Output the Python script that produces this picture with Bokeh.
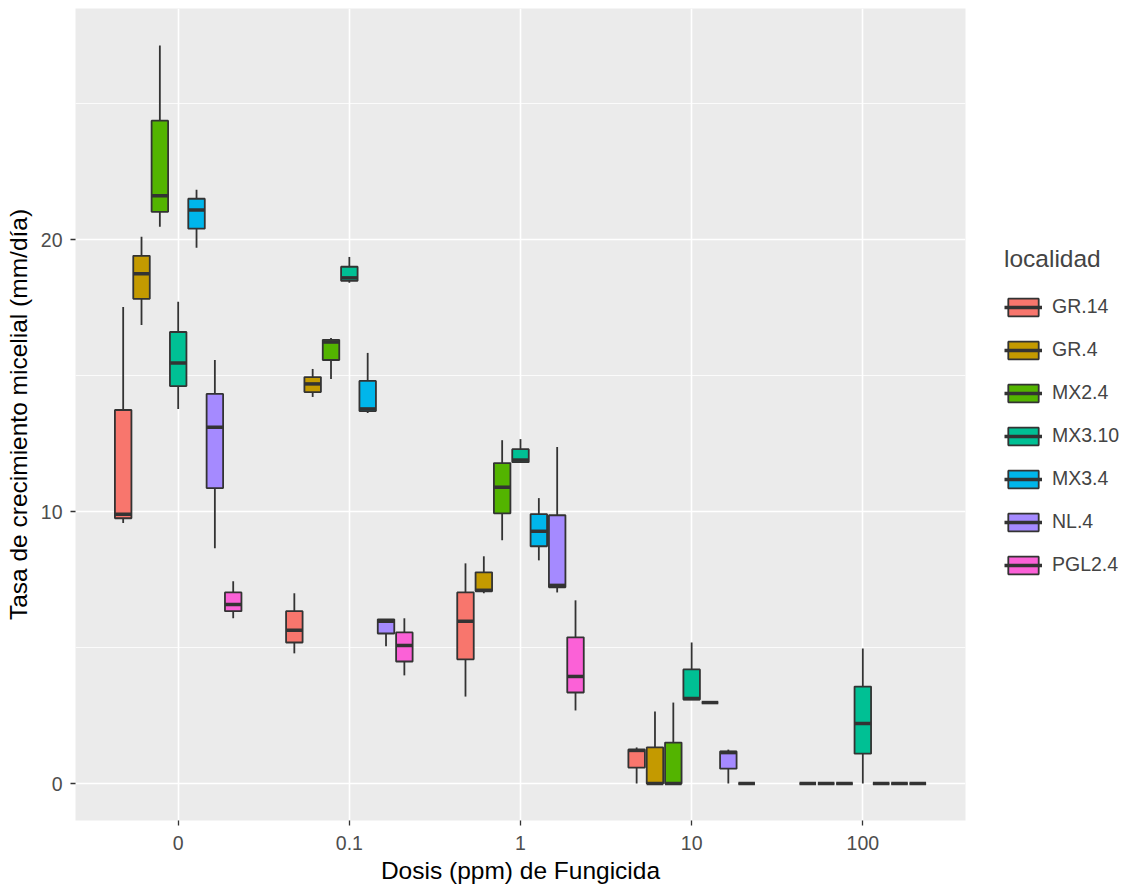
from bokeh.plotting import figure
from bokeh.models import ColumnDataSource, FactorRange, Range1d, FixedTicker, Legend, LegendItem
from bokeh.transform import dodge
from bokeh.embed import file_html
from bokeh.resources import INLINE

doses = ["0", "0.1", "1", "10", "100"]
localidades = ["GR.14", "GR.4", "MX2.4", "MX3.10", "MX3.4", "NL.4", "PGL2.4"]
colores = ["#F8766D", "#C49A00", "#53B400", "#00C094", "#00B6EB", "#A58AFF", "#FB61D7"]

whisker_low = {
    "GR.14": [9.58, 4.79, 3.20, 0.0, 0.0],
    "GR.4": [16.87, 14.22, 7.00, 0.0, 0.0],
    "MX2.4": [20.48, 14.88, 8.95, 0.0, 0.0],
    "MX3.10": [13.78, 18.42, 11.82, 3.09, 0.0],
    "MX3.4": [19.71, 13.63, 8.21, 2.98, 0.0],
    "NL.4": [8.66, 5.05, 7.03, 0.0, 0.0],
    "PGL2.4": [6.08, 3.98, 2.69, 0.0, 0.0],
}
q1 = {
    "GR.14": [9.76, 5.19, 4.57, 0.59, 0.0],
    "GR.4": [17.83, 14.40, 7.07, 0.0, 0.0],
    "MX2.4": [21.03, 15.58, 9.94, 0.0, 0.0],
    "MX3.10": [14.62, 18.49, 11.82, 3.09, 1.10],
    "MX3.4": [20.41, 13.70, 8.73, 2.98, 0.0],
    "NL.4": [10.87, 5.52, 7.22, 0.55, 0.0],
    "PGL2.4": [6.34, 4.49, 3.35, 0.0, 0.0],
}
median = {
    "GR.14": [9.91, 5.64, 5.97, 1.22, 0.0],
    "GR.4": [18.75, 14.70, 7.11, 0.0, 0.0],
    "MX2.4": [21.62, 16.24, 10.90, 0.0, 0.0],
    "MX3.10": [15.47, 18.60, 11.90, 3.13, 2.21],
    "MX3.4": [21.10, 13.78, 9.28, 2.98, 0.0],
    "NL.4": [13.11, 5.97, 7.29, 1.14, 0.0],
    "PGL2.4": [6.59, 5.08, 3.94, 0.0, 0.0],
}
q3 = {
    "GR.14": [13.74, 6.34, 7.03, 1.25, 0.0],
    "GR.4": [19.41, 14.95, 7.77, 1.33, 0.0],
    "MX2.4": [24.38, 16.32, 11.79, 1.51, 0.0],
    "MX3.10": [16.61, 19.01, 12.30, 4.20, 3.57],
    "MX3.4": [21.51, 14.81, 9.91, 2.98, 0.0],
    "NL.4": [14.33, 6.04, 9.87, 1.18, 0.0],
    "PGL2.4": [7.03, 5.56, 5.38, 0.0, 0.0],
}
whisker_high = {
    "GR.14": [17.53, 7.00, 8.10, 1.33, 0.0],
    "GR.4": [20.11, 15.25, 8.36, 2.65, 0.0],
    "MX2.4": [27.15, 16.39, 12.63, 2.98, 0.0],
    "MX3.10": [17.72, 19.37, 12.67, 5.19, 4.97],
    "MX3.4": [21.84, 15.84, 10.50, 2.98, 0.0],
    "NL.4": [15.58, 6.04, 12.38, 1.25, 0.0],
    "PGL2.4": [7.44, 6.08, 6.74, 0.0, 0.0],
}

FONT = "Liberation Sans"
ymax = max(max(v) for v in whisker_high.values())
ymin = 0.0
pad = 0.05 * (ymax - ymin)

p = figure(
    x_range=FactorRange(factors=doses, range_padding=0.1, range_padding_units="absolute"),
    y_range=Range1d(ymin - pad, ymax + pad),
    frame_width=890, frame_height=812,
    output_backend="svg", toolbar_location=None,
    min_border_left=75, min_border_right=164, min_border_top=8, min_border_bottom=70,
)
p.background_fill_color = "#EBEBEB"
p.border_fill_color = "white"
p.outline_line_color = None

p.xgrid.grid_line_color = "white"
p.xgrid.grid_line_width = 1.6
p.ygrid.grid_line_color = "white"
p.ygrid.grid_line_width = 1.6
p.ygrid.minor_grid_line_color = "white"
p.ygrid.minor_grid_line_width = 0.8
p.yaxis.ticker = FixedTicker(ticks=[0, 10, 20], minor_ticks=[5, 15, 25])

for ax in (p.xaxis, p.yaxis):
    ax.axis_line_color = None
    ax.major_tick_line_color = "#333333"
    ax.major_tick_line_width = 1.3
    ax.major_tick_out = 5
    ax.major_tick_in = 0
    ax.minor_tick_line_color = None
    ax.major_label_text_font = FONT
    ax.major_label_text_font_size = "19.5px"
    ax.major_label_text_color = "#4D4D4D"
    ax.axis_label_text_font = FONT
    ax.axis_label_text_font_size = "24.5px"
    ax.axis_label_text_font_style = "normal"
    ax.axis_label_text_color = "black"
p.xaxis.axis_label = "Dosis (ppm) de Fungicida"
p.yaxis.axis_label = "Tasa de crecimiento micelial (mm/día)"
p.xaxis.major_label_standoff = 10
p.xaxis.axis_label_standoff = 4
p.yaxis.major_label_standoff = 8
p.yaxis.axis_label_standoff = 6

n = len(localidades)
slot = 0.75 / n
bw = slot * 0.9
items = []
for i, (loc, col) in enumerate(zip(localidades, colores)):
    off = (i - (n - 1) / 2) * slot
    src = ColumnDataSource(dict(
        dose=doses, lo=whisker_low[loc], q1=q1[loc], med=median[loc], q3=q3[loc], hi=whisker_high[loc],
    ))
    p.segment(x0=dodge("dose", off, range=p.x_range), x1=dodge("dose", off, range=p.x_range),
              y0="lo", y1="hi", source=src, line_color="#333333", line_width=1.8)
    box = p.vbar(x=dodge("dose", off, range=p.x_range), width=bw, bottom="q1", top="q3", source=src,
                 fill_color=col, line_color="#333333", line_width=1.8)
    med = p.segment(x0=dodge("dose", off - bw / 2, range=p.x_range), x1=dodge("dose", off + bw / 2, range=p.x_range),
                    y0="med", y1="med", source=src, line_color="#333333", line_width=3.5)
    items.append(LegendItem(label=loc, renderers=[box, med]))

legend = Legend(items=items, location=(39, 244), title="localidad")
legend.title_text_font = FONT
legend.title_text_font_size = "24.5px"
legend.title_text_font_style = "normal"
legend.title_standoff = 22
legend.label_text_font = FONT
legend.label_text_font_size = "19.5px"
legend.glyph_width = 38
legend.glyph_height = 22
legend.spacing = 20
legend.label_standoff = 10
legend.padding = 5
legend.margin = 0
legend.border_line_color = None
legend.background_fill_color = "white"
p.add_layout(legend, "right")

open("out.html", "w").write(file_html(p, INLINE))
